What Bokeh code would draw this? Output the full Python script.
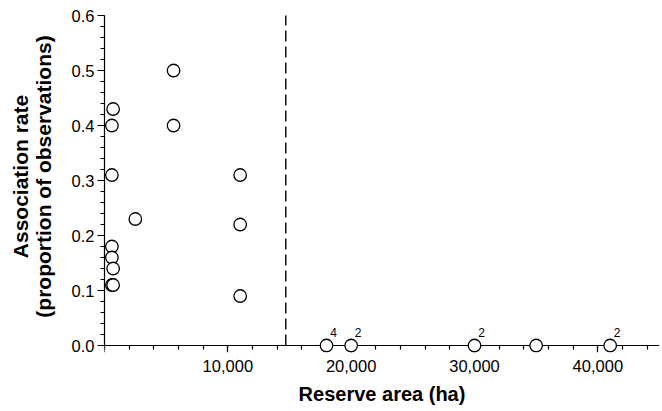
from bokeh.plotting import figure
from bokeh.models import FixedTicker, Range1d, LinearAxis
from bokeh.core.properties import value
from bokeh.embed import file_html
from bokeh.resources import INLINE

# ---- data ----
reserve_area_ha = [700, 600, 600, 600, 600, 700, 600, 700, 2500, 5600, 5600,
                   11000, 11000, 11000, 18000, 20000, 30000, 35000, 41000]
association_rate = [0.43, 0.40, 0.31, 0.18, 0.16, 0.14, 0.11, 0.11, 0.23, 0.50, 0.40,
                    0.31, 0.22, 0.09, 0.0, 0.0, 0.0, 0.0, 0.0]
count_x = [18000, 20000, 30000, 41000]
count_y = [0.0, 0.0, 0.0, 0.0]
count_text = ["4", "2", "2", "2"]
threshold_area = 14700

x_ticks = [0, 10000, 20000, 30000, 40000]
x_tick_labels = ["", "10,000", "20,000", "30,000", "40,000"]
x_minor = list(range(0, 46000, 2000))
y_ticks = [0.0, 0.1, 0.2, 0.3, 0.4, 0.5, 0.6]
y_tick_labels = ["0.0", "0.1", "0.2", "0.3", "0.4", "0.5", "0.6"]
y_minor = [round(i * 0.02, 2) for i in range(0, 31)]

FONT = "Liberation Sans"

p = figure(width=662, height=411, output_backend="svg", toolbar_location=None,
           x_range=Range1d(0, 45000), y_range=Range1d(-0.0127, 0.6273),
           min_border_left=104, min_border_right=3, min_border_top=0, min_border_bottom=59)
p.outline_line_color = None
p.xgrid.visible = False
p.ygrid.visible = False
p.background_fill_color = "white"
p.border_fill_color = "white"

# bottom axis: only tick labels + axis title (sits at the frame edge)
xa = p.xaxis[0]
xa.ticker = FixedTicker(ticks=x_ticks, minor_ticks=x_minor)
xa.major_label_overrides = {k: v for k, v in zip(x_ticks, x_tick_labels)}
xa.axis_line_color = None
xa.major_tick_line_color = None
xa.minor_tick_line_color = None
xa.major_tick_out = 0
xa.major_tick_in = 0
xa.minor_tick_out = 0
xa.minor_tick_in = 0
xa.major_label_standoff = 7
xa.major_label_text_font = FONT
xa.major_label_text_font_size = "16.5px"
xa.major_label_text_color = "black"
xa.axis_label = "Reserve area (ha)"
xa.axis_label_text_font = FONT
xa.axis_label_text_font_size = "20px"
xa.axis_label_text_font_style = "bold"
xa.axis_label_text_color = "black"
xa.axis_label_standoff = 8

# x axis line and ticks drawn at y = 0 (under the circles)
xline = LinearAxis(fixed_location=0, ticker=FixedTicker(ticks=x_ticks, minor_ticks=x_minor),
                   axis_line_color="black", axis_line_width=1.2,
                   major_tick_line_color="black", major_tick_line_width=1.2,
                   minor_tick_line_color="black", minor_tick_line_width=1.2,
                   major_tick_in=7, major_tick_out=0, minor_tick_in=4, minor_tick_out=0,
                   major_label_text_font_size="0px", major_label_standoff=0,
                   major_label_overrides={k: "" for k in x_ticks})
xline.level = "underlay"
p.add_layout(xline, "above")

ya = p.yaxis[0]
ya.ticker = FixedTicker(ticks=y_ticks, minor_ticks=y_minor)
ya.major_label_overrides = dict(zip(y_ticks, y_tick_labels))
ya.bounds = (0, 0.6)
ya.axis_line_color = "black"
ya.axis_line_width = 1.2
ya.major_tick_line_color = "black"
ya.minor_tick_line_color = "black"
ya.major_tick_line_width = 1.2
ya.minor_tick_line_width = 1.2
ya.major_tick_out = 7
ya.major_tick_in = 0
ya.minor_tick_out = 4
ya.minor_tick_in = 0
ya.major_label_standoff = 3
ya.major_label_text_font = FONT
ya.major_label_text_font_size = "16.5px"
ya.major_label_text_color = "black"
ya.axis_label = "Association rate\n(proportion of observations)"
ya.axis_label_text_font = FONT
ya.axis_label_text_font_size = "21px"
ya.axis_label_text_font_style = "bold"
ya.axis_label_text_color = "black"
ya.axis_label_text_line_height = 1.0
ya.axis_label_standoff = 14
try:
    ya.axis_label_align = "center"
except Exception:
    pass

# threshold dashed line
p.segment(x0=[threshold_area], y0=[0.0], x1=[threshold_area], y1=[0.6],
          line_color="black", line_width=1.4, line_dash="11 5")

p.scatter(reserve_area_ha, association_rate, marker="circle", size=12.5,
          fill_color="white", line_color="black", line_width=1.3)

p.text(count_x, count_y, text=count_text, x_offset=7, y_offset=-13,
       text_font=value(FONT), text_font_size="12px", text_align="center",
       text_baseline="middle", text_color="black")

open("out.html", "w").write(file_html(p, INLINE))
